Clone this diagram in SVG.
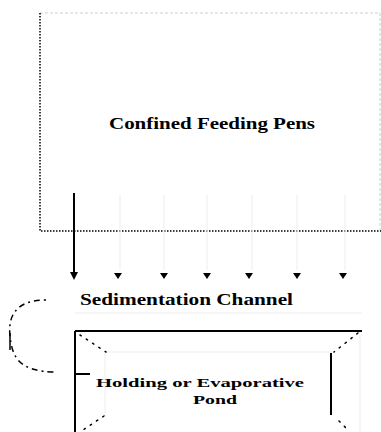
<svg xmlns="http://www.w3.org/2000/svg" width="381" height="432" viewBox="0 0 381 432">
<defs>
<style>
.lbl{font-family:"Liberation Serif","Times New Roman",serif;font-weight:bold;fill:#000;}
.dot{fill:none;stroke:#000;stroke-width:1.5;stroke-dasharray:1.5 1.5;}
.faint{fill:none;stroke:#ededed;stroke-width:1;}
.thick{fill:none;stroke:#000;stroke-width:2;}
.pdots{fill:none;stroke:#000;stroke-width:1.5;stroke-dasharray:1.5 6;stroke-linecap:round;}
</style>
</defs>
<rect width="381" height="432" fill="#fff"/>
<g id="pens">
<path d="M40,13 H380 V231" fill="none" stroke="#e0e0e0" stroke-width="1.5" stroke-dasharray="3 2"/>
<path class="dot" d="M40,13 V231 H381"/>
<text class="lbl" x="109" y="129" font-size="16" textLength="206" lengthAdjust="spacingAndGlyphs">Confined Feeding Pens</text>
</g>
<g id="channel">
<line class="faint" x1="75" y1="313" x2="362" y2="313"/>
<text class="lbl" x="80" y="305" font-size="16" textLength="213" lengthAdjust="spacingAndGlyphs">Sedimentation Channel</text>
</g>
<g id="pond">
<path class="faint" d="M105,352 H335 M360,335 V432 M105,352 V416"/>
<path class="thick" d="M75,331 H362 M75,331 V432 M75,374 H90 M331,353 V415"/>
<path class="pdots" d="M80,335 L106,352 M358,333 L334,352 M339,421 L346,428 M104,416 L80,432"/>
<text class="lbl" x="96" y="387" font-size="13.5" textLength="208" lengthAdjust="spacingAndGlyphs">Holding or Evaporative</text>
<text class="lbl" x="193" y="404" font-size="13.5" textLength="44" lengthAdjust="spacingAndGlyphs">Pond</text>
</g>
<g id="connectors">
<line x1="74" y1="193" x2="74" y2="272" stroke="#000" stroke-width="2"/>
<path d="M70,272 L78,272 L74,280 Z" fill="#000"/>
<g stroke="#ededed" stroke-width="1">
<line x1="120" y1="195" x2="120" y2="270"/>
<line x1="164" y1="195" x2="164" y2="270"/>
<line x1="207" y1="195" x2="207" y2="270"/>
<line x1="252" y1="195" x2="252" y2="270"/>
<line x1="297" y1="195" x2="297" y2="270"/>
<line x1="345" y1="195" x2="345" y2="270"/>
</g>
<g fill="#000">
<path d="M114,273 L122,273 L118,279 Z"/>
<path d="M160,273 L168,273 L164,279 Z"/>
<path d="M203,273 L211,273 L207,279 Z"/>
<path d="M245,273 L253,273 L249,279 Z"/>
<path d="M293,273 L301,273 L297,279 Z"/>
<path d="M339,273 L347,273 L343,279 Z"/>
</g>
<path d="M46,300 C14,300 8,318 10,336 C12,356 18,372 56,372" fill="none" stroke="#000" stroke-width="1.5" stroke-dasharray="2 4 6 4"/>
<line x1="10" y1="333" x2="10" y2="350" stroke="#000" stroke-width="1.5"/>
</g>
</svg>
